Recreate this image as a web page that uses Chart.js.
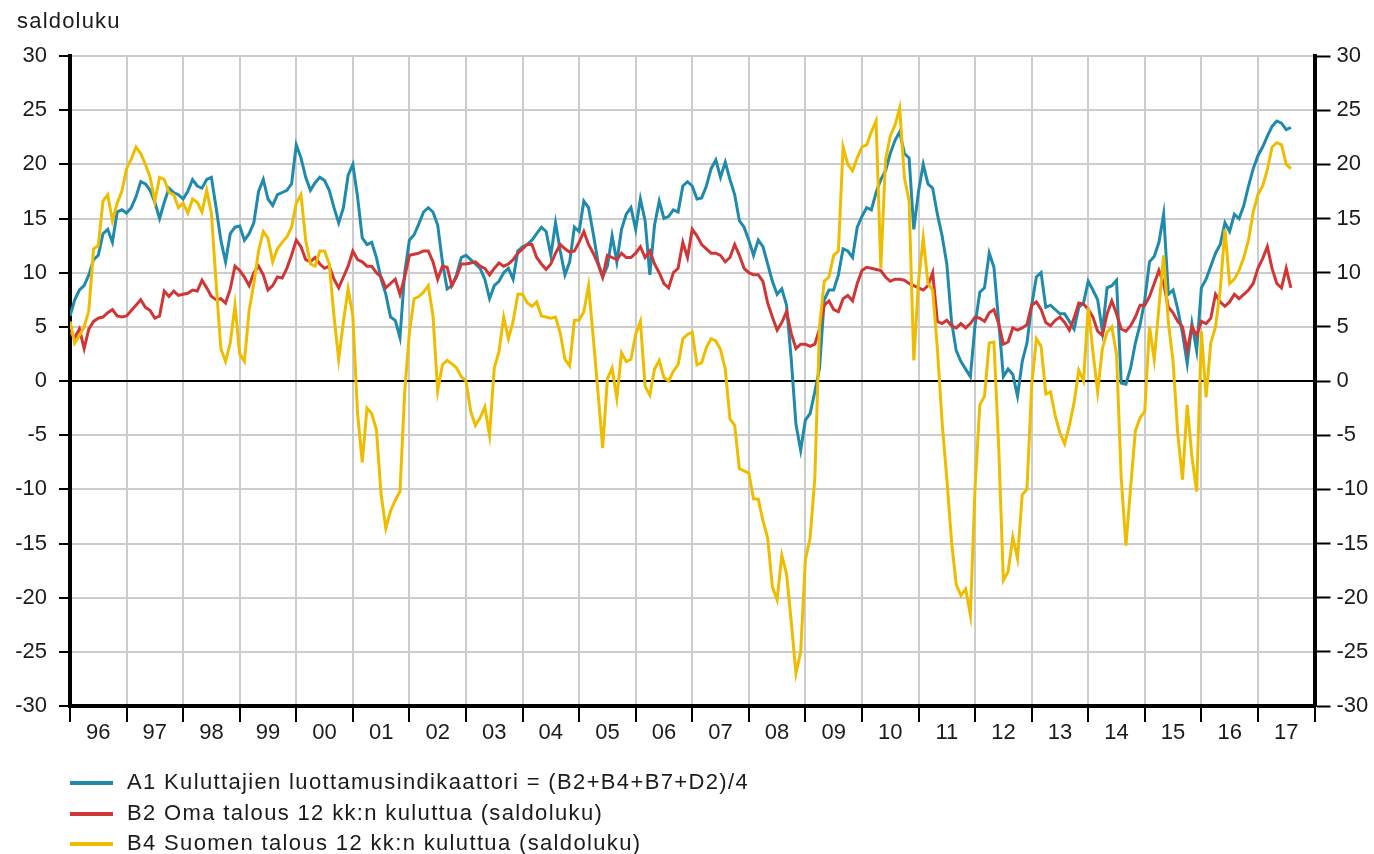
<!DOCTYPE html>
<html>
<head>
<meta charset="utf-8">
<title>Kuluttajien luottamus</title>
<script src="https://cdn.jsdelivr.net/npm/chart.js@4.4.1/dist/chart.umd.min.js"></script>
<style>
  html, body { margin: 0; padding: 0; background: #fff; }
  #wrap {
    position: relative; width: 1374px; height: 854px; overflow: hidden;
    font-family: "Liberation Sans", Arial, sans-serif; color: #1b1b1b;
  }
  #myChart { position: absolute; left: 0; top: 0; }
  .unit { position: absolute; left: 17px; top: 10px; font-size: 22px; line-height: 22px; letter-spacing: 1.2px; }
  .legend-row { position: absolute; left: 70px; height: 22px; font-size: 22px; line-height: 22px; white-space: nowrap; }
  .legend-row i { position: absolute; left: 0; top: 10px; width: 43px; height: 4px; }
  .legend-row span { position: absolute; left: 57px; top: 0; letter-spacing: 1.35px; }
</style>
</head>
<body>
<div id="wrap">
  <canvas id="myChart" width="1374" height="854"></canvas>
  <div class="unit">saldoluku</div>
  <div id="legend"></div>
</div>
<script>
// Monthly series, Jan 1996 - Aug 2017 (one row per year)
const yearLabels = ['96', '97', '98', '99', '00', '01', '02', '03', '04', '05', '06',
                    '07', '08', '09', '10', '11', '12', '13', '14', '15', '16', '17'];

const a1 = [
  6.0, 7.5, 8.4, 8.8, 9.8, 11.2, 11.6, 13.6, 14.0, 12.8, 15.6, 15.8,
  15.5, 16.0, 17.0, 18.4, 18.2, 17.6, 16.5, 15.0, 16.5, 17.8, 17.4, 17.2,
  16.8, 17.5, 18.6, 18.0, 17.8, 18.6, 18.8, 16.0, 13.0, 11.0, 13.6, 14.2,
  14.3, 13.0, 13.6, 14.6, 17.5, 18.6, 16.8, 16.2, 17.2, 17.4, 17.6, 18.2,
  21.8, 20.6, 18.8, 17.6, 18.3, 18.8, 18.5, 17.6, 16.0, 14.6, 16.0, 19.0,
  20.0, 17.0, 13.2, 12.6, 12.8, 11.4, 9.4, 8.0, 5.9, 5.6, 4.0, 10.0,
  13.0, 13.5, 14.5, 15.6, 16.0, 15.6, 14.4, 11.0, 8.5, 8.8, 9.8, 11.4,
  11.6, 11.2, 10.8, 10.4, 9.4, 7.6, 8.8, 9.2, 10.0, 10.4, 9.4, 12.0,
  12.4, 12.6, 13.0, 13.6, 14.2, 13.8, 11.6, 14.6, 12.0, 9.8, 11.0, 14.2,
  13.8, 16.6, 16.0, 13.6, 11.0, 9.6, 10.6, 13.4, 11.0, 14.0, 15.4, 16.0,
  14.0, 16.8, 14.8, 9.8, 14.4, 16.6, 15.0, 15.2, 15.8, 15.6, 18.0, 18.4,
  18.0, 16.8, 16.9, 18.0, 19.6, 20.4, 18.8, 20.2, 18.6, 17.2, 14.8, 14.2,
  13.0, 11.6, 13.0, 12.4, 10.8, 9.2, 8.0, 8.5, 7.0, 2.0, -4.0, -6.4,
  -3.6, -3.0, -1.0, 1.2, 7.5, 8.4, 8.4, 9.8, 12.2, 12.0, 11.4, 14.2,
  15.2, 16.0, 15.8, 17.4, 18.6, 19.4, 21.0, 22.2, 23.0, 21.0, 20.6, 14.0,
  17.5, 20.0, 18.2, 17.8, 15.4, 13.4, 10.8, 5.5, 2.8, 1.8, 1.1, 0.4,
  5.2, 8.2, 8.6, 11.8, 10.5, 5.5, 0.4, 1.1, 0.6, -1.4, 1.8, 3.5,
  7.0, 9.6, 10.0, 6.8, 7.0, 6.6, 6.2, 6.2, 5.5, 4.8, 6.8, 7.2,
  9.2, 8.4, 7.5, 4.6, 8.6, 8.8, 9.3, -0.2, -0.3, 1.2, 3.5, 5.2,
  7.5, 11.0, 11.5, 12.8, 15.4, 8.0, 8.4, 6.6, 4.4, 1.6, 5.3, 2.8,
  8.6, 9.4, 10.6, 11.8, 12.6, 14.6, 13.8, 15.4, 15.0, 16.2, 18.0, 19.6,
  20.8, 21.6, 22.6, 23.5, 24.0, 23.8, 23.2, 23.4
];

const b2 = [
  4.5, 4.0, 4.8, 3.0, 4.8, 5.5, 5.8, 5.9, 6.3, 6.6, 6.0, 5.9,
  6.0, 6.5, 7.0, 7.5, 6.8, 6.5, 5.8, 6.0, 8.3, 7.8, 8.3, 7.9,
  8.0, 8.1, 8.4, 8.3, 9.3, 8.6, 7.8, 7.5, 7.6, 7.2, 8.5, 10.6,
  10.2, 9.6, 8.8, 10.0, 10.6, 9.8, 8.4, 8.8, 9.6, 9.5, 10.4, 11.6,
  13.0, 12.4, 11.2, 11.0, 11.4, 10.8, 10.4, 10.6, 9.4, 8.6, 9.6, 10.6,
  12.0, 11.2, 11.0, 10.6, 10.6, 10.0, 9.6, 8.6, 9.0, 9.4, 8.0, 9.6,
  11.6, 11.7, 11.8, 12.0, 12.0, 11.0, 9.4, 10.6, 10.5, 8.8, 9.6, 10.8,
  10.8, 10.9, 11.0, 10.6, 10.4, 9.8, 10.4, 10.9, 10.6, 10.8, 11.2, 11.8,
  12.2, 12.6, 12.6, 11.4, 10.8, 10.3, 10.8, 11.8, 12.6, 12.2, 11.9, 12.0,
  12.8, 13.8, 12.6, 11.8, 10.8, 9.6, 11.6, 11.4, 11.2, 11.8, 11.4, 11.4,
  11.8, 12.4, 11.4, 12.0, 10.8, 10.0, 9.0, 8.6, 10.0, 10.4, 12.8, 11.4,
  14.0, 13.4, 12.6, 12.2, 11.8, 11.8, 11.6, 11.0, 11.4, 12.6, 11.6, 10.4,
  10.0, 9.8, 9.8, 9.2, 7.2, 5.9, 4.7, 5.4, 6.4, 4.4, 3.0, 3.4,
  3.4, 3.2, 3.4, 4.8, 7.0, 7.4, 6.6, 6.4, 7.6, 7.9, 7.4, 9.0,
  10.2, 10.5, 10.4, 10.3, 10.2, 9.6, 9.2, 9.4, 9.4, 9.3, 9.0, 8.8,
  8.6, 8.4, 8.8, 10.0, 5.5, 5.3, 5.6, 5.1, 4.9, 5.3, 4.9, 5.3,
  5.9, 5.8, 5.5, 6.3, 6.6, 5.3, 3.4, 3.6, 4.9, 4.7, 4.9, 5.2,
  7.0, 7.3, 6.6, 5.4, 5.1, 5.6, 5.9, 5.4, 4.7, 5.8, 7.2, 7.1,
  6.6, 5.9, 4.6, 4.2, 6.2, 7.4, 6.2, 4.8, 4.6, 5.1, 5.9, 7.0,
  7.0, 7.8, 9.0, 10.2, 9.0, 6.8, 6.3, 5.5, 5.0, 2.8, 5.0, 4.2,
  5.5, 5.3, 5.8, 8.0, 7.3, 6.9, 7.3, 8.0, 7.6, 8.0, 8.4, 9.0,
  10.4, 11.3, 12.4, 10.4, 9.0, 8.6, 10.4, 8.6
];

const b4 = [
  5.5, 3.5, 4.2, 5.0, 6.5, 12.2, 12.5, 16.6, 17.2, 14.8, 16.4, 17.5,
  19.6, 20.5, 21.6, 21.0, 20.0, 18.8, 16.6, 18.8, 18.6, 17.4, 17.2, 16.0,
  16.4, 15.5, 16.8, 16.5, 15.6, 17.6, 15.5, 9.0, 3.0, 1.8, 3.5, 7.0,
  2.5, 1.8, 6.5, 9.0, 12.0, 13.8, 13.2, 11.0, 12.2, 12.8, 13.3, 14.2,
  16.4, 17.2, 13.0, 10.8, 10.6, 12.0, 12.0, 10.8, 6.0, 2.0, 5.5, 8.5,
  6.0, -3.0, -7.5, -2.5, -3.0, -4.5, -10.5, -13.6, -12.0, -11.0, -10.2, -1.0,
  4.5, 7.6, 7.8, 8.2, 8.8, 6.0, -0.9, 1.5, 1.9, 1.6, 1.2, 0.4,
  0.0, -2.8, -4.1, -3.4, -2.4, -5.0, 1.2, 2.7, 5.9, 3.9, 5.5, 8.0,
  8.0, 7.2, 6.9, 7.3, 6.0, 5.9, 5.8, 5.9, 4.4, 2.0, 1.4, 5.6,
  5.6, 6.4, 8.8, 4.0, -1.0, -6.2, 0.2, 1.2, -1.6, 2.6, 1.8, 2.0,
  4.3, 5.5, -0.5, -1.3, 1.1, 1.9, 0.3, 0.0, 0.9, 1.5, 3.9, 4.3,
  4.5, 1.5, 1.7, 3.1, 3.9, 3.7, 2.9, 1.1, -3.5, -4.1, -8.1, -8.3,
  -8.5, -10.9, -10.9, -12.9, -14.5, -19.0, -20.2, -16.1, -17.8, -22.2, -27.0, -25.0,
  -16.5, -14.5, -9.0, 5.0, 9.2, 9.6, 11.6, 12.0, 21.6, 20.0, 19.4, 20.6,
  21.6, 21.8, 23.0, 24.0, 10.4, 20.4, 22.6, 23.6, 25.2, 18.8, 16.6, 1.9,
  9.2, 13.2, 9.0, 8.4, 3.0, -3.8, -9.0, -14.8, -18.8, -19.8, -19.2, -21.6,
  -9.8, -2.2, -1.4, 3.5, 3.6, -6.0, -18.4, -17.6, -14.4, -16.4, -10.5, -10.0,
  -0.5, 3.9, 3.2, -1.2, -1.0, -3.2, -4.8, -5.8, -4.1, -2.0, 1.0, 0.0,
  6.8, 2.7, -1.0, 3.0, 4.5, 5.0, 2.5, -9.0, -15.2, -9.8, -4.6, -3.4,
  -2.8, 5.0, 2.0, 6.8, 11.6, 5.4, 1.8, -4.9, -9.1, -2.2, -7.0, -10.2,
  4.6, -1.5, 3.5, 5.0, 8.4, 14.0, 9.0, 9.4, 10.2, 11.4, 13.0, 15.6,
  17.2, 18.0, 19.5, 21.6, 22.0, 21.8, 20.0, 19.6
];

const seriesLabels = [
  'A1 Kuluttajien luottamusindikaattori = (B2+B4+B7+D2)/4',
  'B2 Oma talous 12 kk:n kuluttua (saldoluku)',
  'B4 Suomen talous 12 kk:n kuluttua (saldoluku)'
];
const seriesColors = ['#1f8aab', '#d13636', '#efbd00'];

const GRID = '#cccccc';
const CLEAR = 'rgba(0,0,0,0)';
const tickFont = { family: '"Liberation Sans", Arial, sans-serif', size: 22, lineHeight: 1 };

// x is month index from Jan 1996; year boundaries every 12, labels in the middle
function yearTicks(scale) {
  const ticks = [];
  for (let m = 0; m <= yearLabels.length * 12; m += 6) ticks.push({ value: m });
  scale.ticks = ticks;
}

const isBoundary = v => v % 12 === 0;
const lastMonth = yearLabels.length * 12;

const datasets = [a1, b2, b4].map((values, i) => ({
  label: seriesLabels[i],
  data: values.map((v, m) => ({ x: m, y: v })),
  borderColor: seriesColors[i],
  borderWidth: 3,
  pointRadius: 0,
  tension: 0,
  fill: false,
  order: 3 - i   // B4 on top, as in the original
}));

new Chart(document.getElementById('myChart'), {
  type: 'line',
  data: { datasets },
  options: {
    responsive: false,
    animation: false,
    layout: { padding: { top: 56, bottom: 98, left: 0, right: 0 } },
    plugins: { legend: { display: false }, tooltip: { enabled: false } },
    scales: {
      x: {
        type: 'linear',
        min: 0,
        max: lastMonth,
        afterBuildTicks: yearTicks,
        afterFit: s => { s.height = 50; },
        border: { color: '#000', width: 4 },
        grid: {
          color: ctx => (isBoundary(ctx.tick.value) && ctx.tick.value > 0 && ctx.tick.value < lastMonth) ? GRID : CLEAR,
          lineWidth: 2,
          tickColor: ctx => isBoundary(ctx.tick.value) ? '#000' : CLEAR,
          tickWidth: 2,
          tickLength: 16
        },
        ticks: {
          autoSkip: false,
          maxRotation: 0,
          padding: 0,
          color: '#1b1b1b',
          font: tickFont,
          callback: v => isBoundary(v) ? '' : yearLabels[(v - 6) / 12]
        }
      },
      y: {
        position: 'left',
        min: -30,
        max: 30,
        afterFit: s => { s.width = 70; },
        border: { color: '#000', width: 4 },
        grid: {
          color: ctx => ctx.tick.value === 0 ? '#000' : (ctx.tick.value === -30 ? CLEAR : GRID),
          lineWidth: 2,
          tickColor: '#000',
          tickWidth: 2,
          tickLength: 11
        },
        ticks: { stepSize: 5, padding: 12, color: '#1b1b1b', font: tickFont }
      },
      y2: {
        position: 'right',
        min: -30,
        max: 30,
        afterFit: s => { s.width = 59.5; },
        border: { color: '#000', width: 4 },
        grid: {
          drawOnChartArea: false,
          tickColor: '#000',
          tickWidth: 2,
          tickLength: 16
        },
        ticks: { stepSize: 5, padding: 6, color: '#1b1b1b', font: tickFont }
      }
    }
  }
});

// HTML legend, one row per series
const legend = document.getElementById('legend');
const rowTops = [771, 801.5, 832];
seriesLabels.forEach((text, i) => {
  const row = document.createElement('div');
  row.className = 'legend-row';
  row.style.top = rowTops[i] + 'px';
  const swatch = document.createElement('i');
  swatch.style.background = seriesColors[i];
  const label = document.createElement('span');
  label.textContent = text;
  row.appendChild(swatch);
  row.appendChild(label);
  legend.appendChild(row);
});
</script>
</body>
</html>
